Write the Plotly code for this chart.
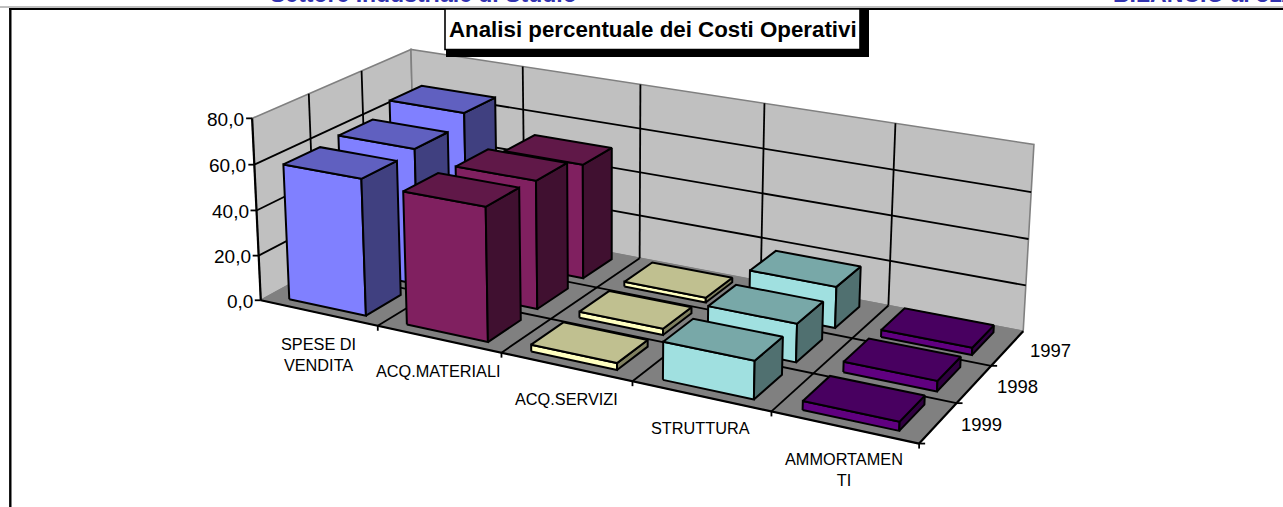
import numpy as np
import plotly.graph_objects as go

# ---- data ----
categories = ["SPESE DI<br>VENDITA", "ACQ.MATERIALI", "ACQ.SERVIZI", "STRUTTURA", "AMMORTAMEN<br>TI"]
years = ["1999", "1998", "1997"]              # front row to back row
values_1999 = [59.7, 57.6, 2.9, 15.9, 3.7]
values_1998 = [61.0, 56.4, 2.7, 16.4, 4.4]
values_1997 = [66.0, 51.6, 2.1, 18.0, 3.1]
value_ticks = [0, 20, 40, 60, 80]
value_labels = ["0,0", "20,0", "40,0", "60,0", "80,0"]
title_text = "Analisi percentuale dei Costi Operativi"
header_left = "Settore Industriale di Studio"
header_right = "BILANCIO al 31/12/1999"

# ---- styles ----
FRONT = ["#8080FF", "#802060", "#FFFFC0", "#A0E0E0", "#600080"]
TOP = ["#6060C0", "#601848", "#C0C090", "#78A8A8", "#480060"]
SIDE = ["#404080", "#401030", "#808060", "#507070", "#300040"]
WALL, FLOOR, EDGE = "#C0C0C0", "#808080", "#808080"
BAR_LO, BAR_HI = 0.167, 0.825
W, H = 1283, 507
ZMAX = 80.0
NC, NS = len(categories), len(years)

# perspective camera for the chart's 3D box
EYE = np.array([4.3223, -8.2968, 3.4228])
TARGET = np.array([-0.3144, 0.6837, 0.3581])
UP = np.array([-0.7244, 1.3875, 1.0])
BOX = np.array([3.1568, 1.2758, 0.8602])
FOCAL, PX, PY = 2265.245, 645.1177, 96.8092
_f = (TARGET - EYE) / np.linalg.norm(TARGET - EYE)
_s = np.cross(_f, UP); _s /= np.linalg.norm(_s)
_t = np.cross(_s, _f)


def project(c, s, v):
    """category position, series position, value -> axis coordinates"""
    p = (np.array([c / NC, s / NS, v / ZMAX]) - 0.5) * BOX - EYE
    z = p @ _f
    return PX + FOCAL * (p @ _s) / z, PY - FOCAL * (p @ _t) / z


def path(points):
    xy = [project(*p) for p in points]
    return [a for a, _ in xy], [b for _, b in xy]


fig = go.Figure()


def poly(points, fill, line="black", width=2.0, name=None):
    x, y = path(points + points[:1])
    fig.add_trace(go.Scatter(x=x, y=y, mode="lines", fill="toself", fillcolor=fill,
                             line=dict(color=line, width=width), name=name,
                             hoverinfo="skip", showlegend=False))


def lines(segments, color="black", width=1.8):
    xs, ys = [], []
    for a, b in segments:
        x, y = path([a, b])
        xs += x + [None]
        ys += y + [None]
    fig.add_trace(go.Scatter(x=xs, y=ys, mode="lines", line=dict(color=color, width=width),
                             hoverinfo="skip", showlegend=False))


# walls and floor
poly([(0, 0, 0), (0, NS, 0), (0, NS, ZMAX), (0, 0, ZMAX)], WALL, EDGE, 1.6)
poly([(0, NS, 0), (NC, NS, 0), (NC, NS, ZMAX), (0, NS, ZMAX)], WALL, EDGE, 1.6)
poly([(0, 0, 0), (NC, 0, 0), (NC, NS, 0), (0, NS, 0)], FLOOR, EDGE, 1.2)

# gridlines
grid = []
for v in value_ticks[1:-1]:
    grid += [((0, 0, v), (0, NS, v)), ((0, NS, v), (NC, NS, v))]
for c in range(1, NC):
    grid += [((c, NS, 0), (c, NS, ZMAX)), ((c, 0, 0), (c, NS, 0))]
for s in range(1, NS):
    grid += [((0, s, 0), (0, s, ZMAX)), ((0, s, 0), (NC, s, 0))]
lines(grid)
lines([((0, 0, 0), (0, 0, ZMAX)), ((0, 0, 0), (NC, 0, 0)), ((NC, 0, 0), (NC, NS, 0))], width=2.2)

# bars, back row first, left to right inside a row
rows = [values_1999, values_1998, values_1997]
for s in reversed(range(NS)):
    for c in range(NC):
        v = rows[s][c]
        x0, x1, y0, y1 = c + BAR_LO, c + BAR_HI, s + BAR_LO, s + BAR_HI
        label = f"{categories[c]} {years[s]}"
        poly([(x0, y0, 0), (x1, y0, 0), (x1, y0, v), (x0, y0, v)], FRONT[c], name=label)
        poly([(x1, y0, 0), (x1, y1, 0), (x1, y1, v), (x1, y0, v)], SIDE[c], name=label)
        poly([(x0, y0, v), (x1, y0, v), (x1, y1, v), (x0, y1, v)], TOP[c], name=label)

# tick marks
tx, ty = [], []
for v in value_ticks:
    a, b = project(0, 0, v)
    tx += [a - 6, a, None]; ty += [b, b, None]
for c in range(1, NC + 1):
    a, b = project(c, 0, 0)
    tx += [a, a, None]; ty += [b, b + 5, None]
for s in range(0, NS):
    a, b = project(NC, s, 0)
    tx += [a, a + 6, None]; ty += [b, b, None]
fig.add_trace(go.Scatter(x=tx, y=ty, mode="lines", line=dict(color="black", width=1.8),
                         hoverinfo="skip", showlegend=False))

FONT = "Liberation Sans, Arial, sans-serif"
ann = []
for v, t in zip(value_ticks, value_labels):
    a, b = project(0, 0, v)
    ann.append(dict(x=a - 6, y=b + 1, text=t, xanchor="right", yanchor="middle",
                    font=dict(size=19, color="black", family=FONT)))
for c, t in enumerate(categories):
    a, b = project(c + 0.5, 0, 0)
    n = t.count("<br>") + 1
    ann.append(dict(x=a, y=b + 22 + 10 * n, text=t, xanchor="center", yanchor="middle",
                    font=dict(size=16.3, color="black", family=FONT)))
for s, t in enumerate(years):
    a, b = project(NC, s + 0.5, 0)
    ann.append(dict(x=a + 43, y=b + 2, text=t, xanchor="center", yanchor="middle",
                    font=dict(size=18.5, color="black", family=FONT)))
ann.append(dict(x=652.5, y=29.5, text=f"<b>{title_text}</b>", xanchor="center", yanchor="middle",
                font=dict(size=22.3, color="black", family=FONT)))
ann.append(dict(x=268, y=9, text=f"<b>{header_left}</b>", xanchor="left", yanchor="bottom",
                font=dict(size=23, color="#3333B0", family=FONT)))
ann.append(dict(x=1111, y=9, text=f"<b>{header_right}</b>", xanchor="left", yanchor="bottom",
                font=dict(size=23, color="#3333B0", family=FONT)))
for a in ann:
    a.update(showarrow=False, xref="x", yref="y")

shapes = [
    dict(type="line", x0=0, x1=W, y0=7, y1=7, line=dict(color="#808080", width=1), layer="above"),
    dict(type="line", x0=9, x1=W, y0=9, y1=9, line=dict(color="black", width=2.2), layer="above"),
    dict(type="line", x0=10.3, x1=10.3, y0=8, y1=H, line=dict(color="black", width=2.4), layer="above"),
    dict(type="rect", x0=446, x1=869, y0=9, y1=57, fillcolor="black", line=dict(width=0), layer="above"),
    dict(type="rect", x0=445, x1=860, y0=9, y1=49.5, fillcolor="white", line=dict(color="black", width=1.6), layer="above"),
]

fig.update_layout(
    width=W, height=H, margin=dict(l=0, r=0, t=0, b=0),
    paper_bgcolor="white", plot_bgcolor="white", showlegend=False,
    xaxis=dict(range=[0, W], visible=False, fixedrange=True),
    yaxis=dict(range=[H, 0], visible=False, fixedrange=True),
    annotations=ann, shapes=shapes,
)
fig.write_html("out.html", config=dict(displayModeBar=False),
               post_script="document.body.style.margin='0';document.body.style.overflow='hidden';")
